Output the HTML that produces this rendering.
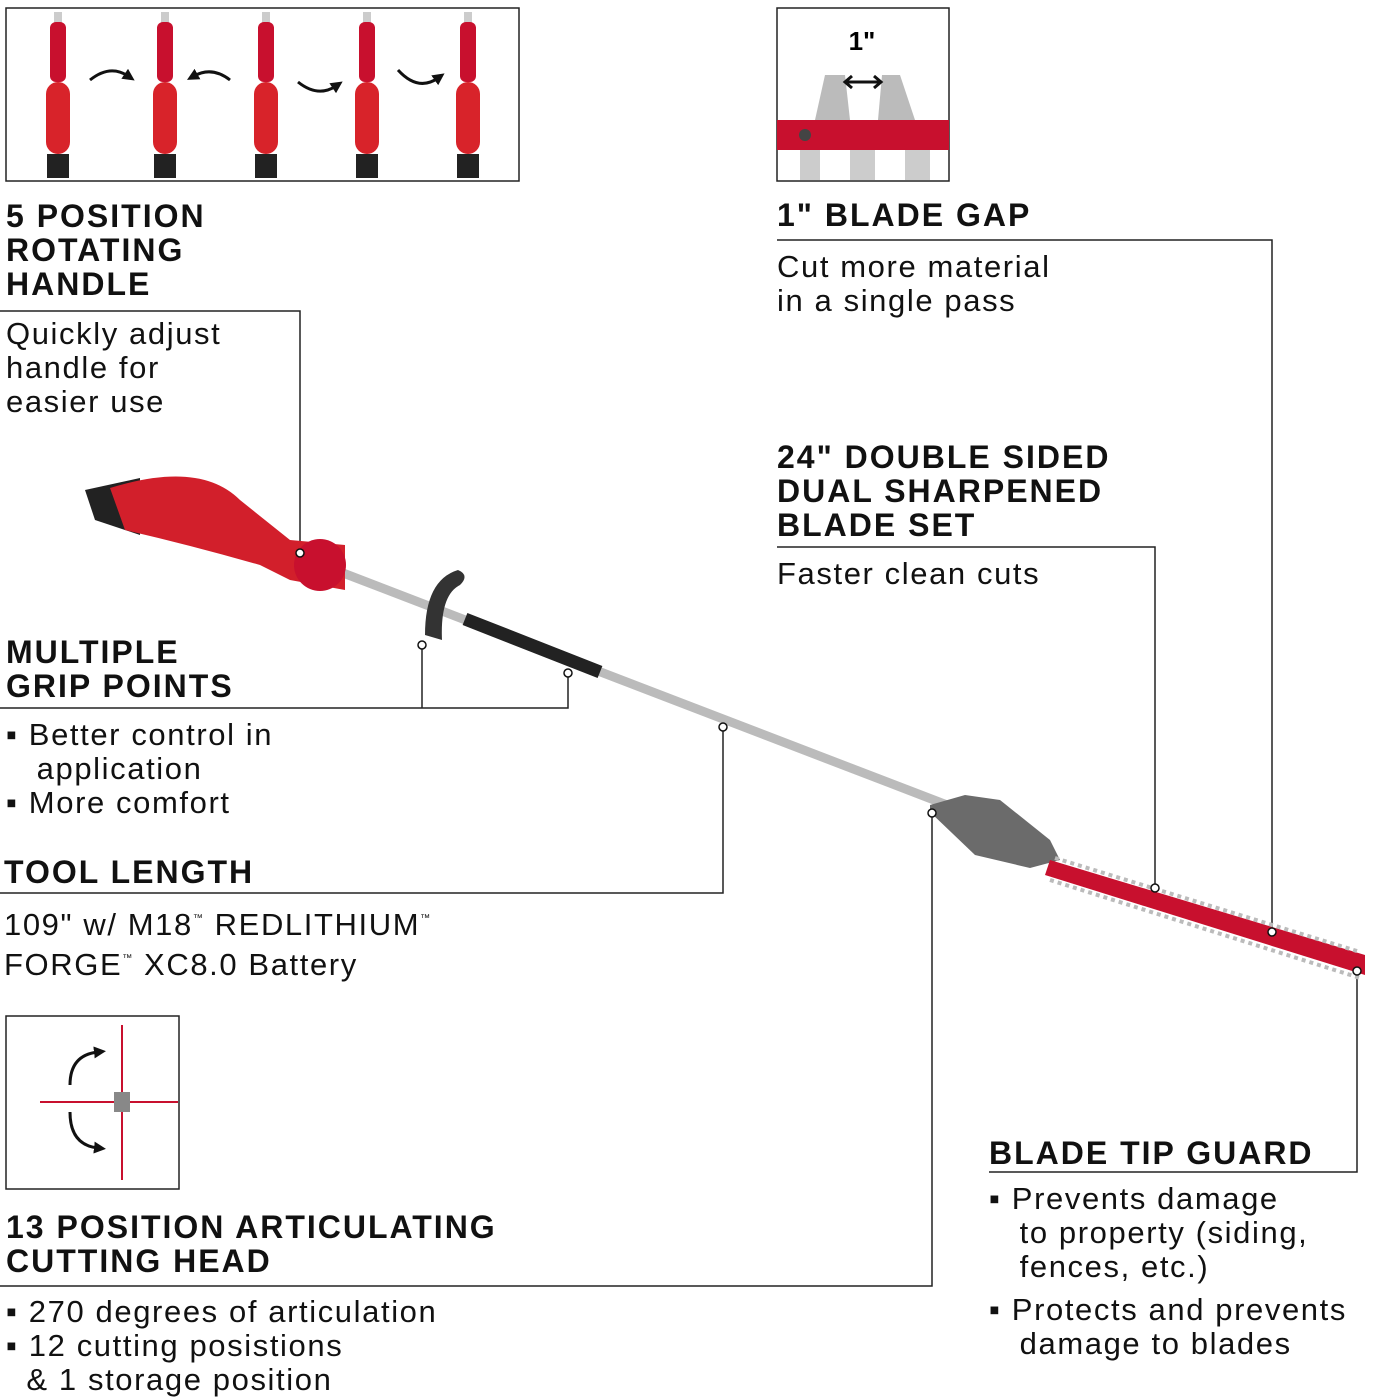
<!DOCTYPE html>
<html><head><meta charset="utf-8">
<style>
html,body{margin:0;padding:0;background:#fff}
body{width:1376px;height:1400px;position:relative;overflow:hidden;font-family:"Liberation Sans",Arial,sans-serif;color:#111}
.t{position:absolute;line-height:34px;white-space:nowrap}
.h{font-weight:bold;font-size:32px;letter-spacing:2px}
.r{font-size:31px;letter-spacing:1.6px}
sup{font-size:10px;vertical-align:14px}
</style></head><body>
<svg width="1376" height="1400" style="position:absolute;left:0;top:0">
<defs>
<g id="hd"><rect x="-4" y="0" width="8" height="12" fill="#ccc"/><rect x="-8" y="10" width="16" height="60" rx="6" fill="#c8102e"/><rect x="-12" y="70" width="24" height="72" rx="12" fill="#d8232a"/><rect x="-11" y="142" width="22" height="24" fill="#222"/></g>
<marker id="ah" markerUnits="userSpaceOnUse" markerWidth="12" markerHeight="12" refX="4" refY="6" orient="auto"><path d="M0,0 L12,6 L0,12 Z" fill="#111"/></marker>
</defs>
<g fill="none" stroke="#222" stroke-width="1.5">
<rect x="6" y="8" width="513" height="173"/>
<rect x="777" y="8" width="172" height="173"/>
<rect x="6" y="1016" width="173" height="173"/>
<polyline points="0,311 300,311 300,553"/>
<polyline points="777,240 1272,240 1272,932"/>
<polyline points="777,547 1155,547 1155,888"/>
<polyline points="0,708 568,708 568,673"/>
<line x1="422" y1="708" x2="422" y2="645"/>
<polyline points="0,893 723,893 723,727"/>
<polyline points="0,1286 932,1286 932,813"/>
<polyline points="989,1172 1357,1172 1357,971"/>
</g>
<use href="#hd" x="58" y="12"/><use href="#hd" x="165" y="12"/><use href="#hd" x="266" y="12"/><use href="#hd" x="367" y="12"/><use href="#hd" x="468" y="12"/>
<g fill="none" stroke="#111" stroke-width="3" marker-end="url(#ah)">
<path d="M90,80 Q110,64 128,76"/><path d="M230,80 Q212,66 194,76"/><path d="M298,82 Q318,98 336,86"/><path d="M398,70 Q418,92 438,78"/>
</g>
<rect x="777" y="120" width="172" height="30" fill="#c8102e"/>
<polygon points="815,120 825,75 845,75 850,120" fill="#bbb"/>
<polygon points="878,120 882,75 900,75 915,120" fill="#bbb"/>
<rect x="800" y="150" width="20" height="30" fill="#ccc"/><rect x="850" y="150" width="25" height="30" fill="#ccc"/><rect x="905" y="150" width="25" height="30" fill="#ccc"/>
<circle cx="805" cy="135" r="6" fill="#444"/>
<text x="862" y="50" font-family="Liberation Sans" font-weight="bold" font-size="26" text-anchor="middle">1"</text>
<path d="M846,82 H880" stroke="#111" stroke-width="3"/><path d="M852,76 L845,82 L852,88 M874,76 L881,82 L874,88" stroke="#111" stroke-width="3" fill="none"/>
<line x1="40" y1="1102" x2="178" y2="1102" stroke="#c8102e" stroke-width="2"/>
<line x1="122" y1="1025" x2="122" y2="1180" stroke="#c8102e" stroke-width="2"/>
<rect x="114" y="1092" width="16" height="20" fill="#888"/>
<path d="M70,1085 Q70,1055 98,1052" stroke="#111" stroke-width="3" fill="none" marker-end="url(#ah)"/>
<path d="M70,1112 Q70,1145 98,1148" stroke="#111" stroke-width="3" fill="none" marker-end="url(#ah)"/>
<line x1="330" y1="568" x2="960" y2="810" stroke="#bbb" stroke-width="9"/>
<line x1="465" y1="619" x2="600" y2="672" stroke="#222" stroke-width="13"/>
<path d="M425,635 Q425,580 458,570 Q470,575 460,585 Q440,595 442,640" fill="#333"/>
<polygon points="85,490 140,478 140,535 95,520" fill="#222"/>
<path d="M110,488 Q200,460 240,500 L290,540 L345,545 L345,590 L290,580 L260,565 Q190,545 125,530 Z" fill="#d21f2b"/>
<ellipse cx="320" cy="565" rx="26" ry="26" fill="#c8102e"/>
<circle cx="300" cy="553" r="4" fill="#fff" stroke="#111" stroke-width="1.5"/>
<polygon points="930,805 965,795 1000,800 1050,840 1060,860 1030,868 975,855 930,812" fill="#6b6b6b"/>
<polygon points="1050,860 1365,955 1365,975 1045,875" fill="#c8102e"/>
<line x1="1050" y1="880" x2="1360" y2="978" stroke="#bbb" stroke-width="4" stroke-dasharray="4 4"/>
<line x1="1055" y1="858" x2="1360" y2="952" stroke="#bbb" stroke-width="4" stroke-dasharray="4 4"/>
<g fill="#fff" stroke="#111" stroke-width="1.5">
<circle cx="1272" cy="932" r="4"/><circle cx="1155" cy="888" r="4"/><circle cx="568" cy="673" r="4"/><circle cx="422" cy="645" r="4"/><circle cx="723" cy="727" r="4"/><circle cx="932" cy="813" r="4"/><circle cx="1357" cy="971" r="4"/>
</g>
</svg>
<div class="t h" style="left:6px;top:199px">5 POSITION<br>ROTATING<br>HANDLE</div>
<div class="t r" style="left:6px;top:317px">Quickly adjust<br>handle for<br>easier use</div>
<div class="t h" style="left:777px;top:198px">1" BLADE GAP</div>
<div class="t r" style="left:777px;top:250px">Cut more material<br>in a single pass</div>
<div class="t h" style="left:777px;top:440px">24" DOUBLE SIDED<br>DUAL SHARPENED<br>BLADE SET</div>
<div class="t r" style="left:777px;top:557px">Faster clean cuts</div>
<div class="t h" style="left:6px;top:635px">MULTIPLE<br>GRIP POINTS</div>
<div class="t r" style="left:6px;top:718px">▪ Better control in<br>&nbsp;&nbsp;&nbsp;application<br>▪ More comfort</div>
<div class="t h" style="left:4px;top:855px">TOOL LENGTH</div>
<div class="t r" style="left:4px;top:902px">109" w/ M18<sup>™</sup> REDLITHIUM<sup>™</sup><br>FORGE<sup>™</sup> XC8.0 Battery</div>
<div class="t h" style="left:6px;top:1210px">13 POSITION ARTICULATING<br>CUTTING HEAD</div>
<div class="t r" style="left:6px;top:1295px">▪ 270 degrees of articulation<br>▪ 12 cutting posistions<br>&nbsp;&nbsp;&amp; 1 storage position</div>
<div class="t h" style="left:989px;top:1136px">BLADE TIP GUARD</div>
<div class="t r" style="left:989px;top:1182px">▪ Prevents damage<br>&nbsp;&nbsp;&nbsp;to property (siding,<br>&nbsp;&nbsp;&nbsp;fences, etc.)</div>
<div class="t r" style="left:989px;top:1293px">▪ Protects and prevents<br>&nbsp;&nbsp;&nbsp;damage to blades</div>
</body></html>
